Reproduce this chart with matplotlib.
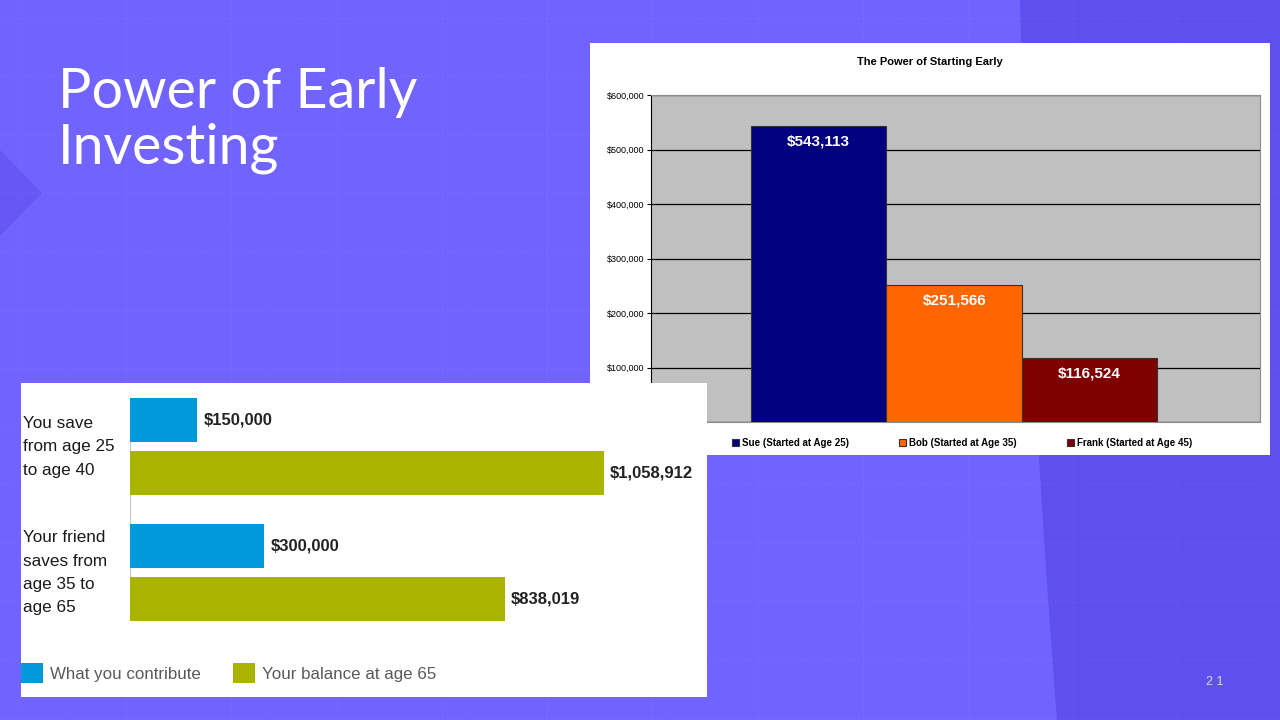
import numpy as np
import matplotlib
matplotlib.use("Agg")
import matplotlib.pyplot as plt
from matplotlib.patches import Polygon, Rectangle
from matplotlib.transforms import blended_transform_factory

# ---- data ----
people = ["Sue (Started at Age 25)", "Bob (Started at Age 35)", "Frank (Started at Age 45)"]
balances = [543113, 251566, 116524]
people_colors = ["#000080", "#FF6600", "#800000"]
y_ticks = [0, 100000, 200000, 300000, 400000, 500000, 600000]

savers = ["You save\nfrom age 25\nto age 40", "Your friend\nsaves from\nage 35 to\nage 65"]
contributed = [150000, 300000]
balance_65 = [1058912, 838019]
series_names = ["What you contribute", "Your balance at age 65"]
series_colors = ["#0099DA", "#A9B400"]

W, H = 1280, 720
BG = "#7163FE"
ARIAL = ["Liberation Sans", "DejaVu Sans"]


def px(x0, y0, x1, y1):
    """pixel box (top-left origin) -> figure rect"""
    return [x0 / W, 1 - y1 / H, (x1 - x0) / W, (y1 - y0) / H]


fig = plt.figure(figsize=(12.8, 7.2), dpi=100)
fig.patch.set_facecolor(BG)

# ---- slide background ----
bg = fig.add_axes([0, 0, 1, 1])
bg.set_xlim(0, W)
bg.set_ylim(H, 0)
bg.axis("off")

ys = np.linspace(0, H, 60)
xs = 1020 + 0.0244 * ys + 3.75e-5 * ys ** 2
dark = Polygon(list(zip(xs, ys)) + [(W, H), (W, 0)], closed=True,
               facecolor="#5F4FEE", edgecolor="none", zorder=0)
bg.add_patch(dark)
bg.add_patch(Polygon([(0, 150), (42, 193), (0, 236)], closed=True,
                     facecolor="#6657F6", edgecolor="none", zorder=0))

for gx in np.arange(21, W + 1, 105.2):
    bg.axvline(gx, color="white", alpha=0.08, lw=1, ls=(0, (1, 2)), zorder=1)
for gy in np.arange(18, H + 1, 58.3):
    bg.axhline(gy, color="white", alpha=0.08, lw=1, ls=(0, (1, 2)), zorder=1)

for line, base in [("Power of Early", 108), ("Investing", 163)]:
    bg.text(58, base, line, fontsize=40, color="white", fontweight="normal",
            family=["Lato", "DejaVu Sans"], va="baseline", ha="left", zorder=3)
bg.text(1215, 682, "2 1", fontsize=9, color="#DCD6FF", ha="center", va="center",
        family=ARIAL)

# white panel of the column chart
bg.add_patch(Rectangle((590, 43), 680, 412, facecolor="white", edgecolor="none", zorder=2))
bg.text(930, 62, "The Power of Starting Early", fontsize=8, fontweight="bold",
        ha="center", va="center", family=ARIAL, zorder=3)

# ---- column chart ----
ax1 = fig.add_axes(px(651, 95, 1260, 422))
ax1.set_facecolor("#C0C0C0")
xpos = np.arange(len(people))
bars1 = ax1.bar(xpos, balances, width=1.0, color=people_colors,
                edgecolor="#333333", linewidth=0.8, zorder=3)
for b, v in zip(bars1, balances):
    ax1.annotate(f"${v:,.0f}", (b.get_x() + b.get_width() / 2, v),
                 xytext=(0, -11), textcoords="offset points",
                 ha="center", va="center", color="white", fontsize=11,
                 fontweight="bold", family=ARIAL, zorder=4)
ax1.set_xlim(-0.5 - 0.74, len(people) - 0.5 + 0.76)
ax1.set_ylim(0, 600000)
ax1.set_yticks(y_ticks)
ax1.set_yticklabels([f"${t:,.0f}" for t in y_ticks], fontsize=6.5, family=ARIAL)
ax1.set_xticks([])
ax1.yaxis.grid(True, color="black", lw=0.9, zorder=1)
ax1.tick_params(axis="y", length=3, width=0.8, pad=2)
for s in ["top", "right", "bottom"]:
    ax1.spines[s].set_color("#8C8C8C")
ax1.spines["left"].set_color("black")
ax1.legend(bars1, people, ncol=3, loc="center",
           bbox_to_anchor=(962 / W, 1 - 443 / H), bbox_transform=fig.transFigure,
           frameon=False, handlelength=0.7, handleheight=0.7, handletextpad=0.3,
           columnspacing=5.2, prop={"family": ARIAL, "size": 7, "weight": "bold"})

# ---- horizontal bar chart in white box ----
box = fig.add_axes(px(21, 383, 707, 697))
box.set_facecolor("white")
box.set_xticks([])
box.set_yticks([])
for s in box.spines.values():
    s.set_visible(False)

ax2 = fig.add_axes(px(130, 383, 707, 645))
ax2.patch.set_alpha(0)
group_base = np.array([0, 2.38])
bar_h = 0.83
b_c = ax2.barh(group_base, contributed, height=bar_h, color=series_colors[0], zorder=3)
b_b = ax2.barh(group_base + 1, balance_65, height=bar_h, color=series_colors[1], zorder=3)
for bars, vals in [(b_c, contributed), (b_b, balance_65)]:
    for b, v in zip(bars, vals):
        ax2.annotate(f"${v:,.0f}", (v, b.get_y() + b.get_height() / 2),
                     xytext=(4.5, 0), textcoords="offset points", ha="left", va="center",
                     fontsize=12, fontweight="bold", color="#222222", family=ARIAL)
ax2.vlines(0, group_base[0] - bar_h / 2, group_base[-1] + 1 + bar_h / 2,
           color="#C8C8C8", lw=1.5, zorder=2)
ax2.set_xlim(0, 1290000)
ax2.set_ylim(4.24, -0.70)
ax2.axis("off")

tr = blended_transform_factory(fig.transFigure, ax2.transData)
for g, lab in zip(group_base, savers):
    ax2.text(23 / W, g + 0.5, lab, transform=tr, ha="left", va="center",
             fontsize=12.3, color="#1A1A1A", family=ARIAL, linespacing=1.7)

ax2.legend([b_c, b_b], series_names, loc="center left",
           bbox_to_anchor=(21 / W, 1 - 673 / H), bbox_transform=fig.transFigure,
           frameon=False, borderpad=0, borderaxespad=0, handlelength=1.3,
           handleheight=1.4, handletextpad=0.4, columnspacing=1.9, ncol=2,
           labelcolor="#595959", prop={"family": ARIAL, "size": 12.2})

fig.savefig("out.png", dpi=100, facecolor=BG)
